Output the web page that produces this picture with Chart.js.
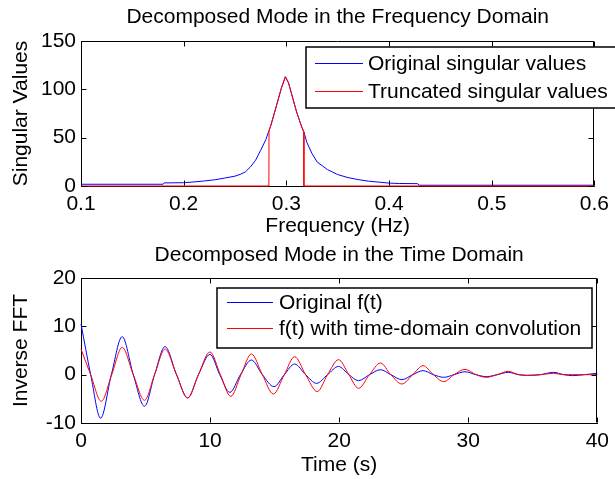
<!DOCTYPE html>
<html>
<head>
<meta charset="utf-8">
<script src="https://cdn.jsdelivr.net/npm/chart.js@4.4.0/dist/chart.umd.min.js"></script>
<style>
  body { margin: 0; background: #fff; }
  .panel { position: absolute; left: 0; width: 615px; }
</style>
</head>
<body>
<div class="panel" style="top:0;height:240px"><canvas id="freqChart" width="615" height="240"></canvas></div>
<div class="panel" style="top:240px;height:239px"><canvas id="timeChart" width="615" height="239"></canvas></div>
<script>
// singular values around the 0.3 Hz mode
const freqOriginal = [0.100, 0.180, 0.181, 0.200, 0.210, 0.220, 0.230, 0.240, 0.250, 0.255, 0.260, 0.265, 0.270, 0.275, 0.280, 0.283, 0.285, 0.290, 0.295, 0.299, 0.302, 0.305, 0.310, 0.315, 0.317, 0.320, 0.325, 0.330, 0.340, 0.350, 0.360, 0.370, 0.380, 0.390, 0.400, 0.410, 0.428, 0.429, 0.600];
const svOriginal = [1.8, 1.8, 3.2, 3.4, 4.2, 5.2, 6.4, 8.2, 10.2, 12, 14.5, 19.7, 26.6, 37, 48, 57, 63, 81.7, 100.7, 113, 107, 95.6, 76.5, 61, 56, 45, 33.5, 24.8, 17, 11.8, 8.7, 6.6, 5.0, 4.0, 3.0, 2.6, 2.4, 0.8, 0.8];
const freqTruncated = [0.100, 0.283, 0.2831, 0.285, 0.290, 0.295, 0.299, 0.302, 0.305, 0.310, 0.315, 0.317, 0.3171, 0.600];
const svTruncated = [0, 0, 57, 63, 81.7, 100.7, 113, 107, 95.6, 76.5, 61, 56, 0, 0];
const freqTicks = [0.1, 0.2, 0.3, 0.4, 0.5, 0.6];
const svTicks = [0, 50, 100, 150];

// inverse FFT of the mode, with and without the convolution
const timeOriginal = [0, 0.75, 1.52, 2.35, 3.19, 4.05, 4.92, 5.7, 6.51, 7.4, 8.26, 9.1, 9.99, 10.75, 11.53, 12.35, 13.2, 14.05, 14.95, 15.75, 16.55, 17.4, 18.25, 19.1, 19.95, 20.75, 21.5, 22.35, 23.2, 24.0, 24.86, 25.7, 26.5, 27.3, 28.1, 28.9, 29.75, 30.6, 31.4, 32.25, 33.1, 33.9, 34.6, 35.6, 36.6, 37.4, 38.1, 39.0, 40];
const fOriginal = [10.5, 0, -9.0, 0, 7.86, 0, -6.55, 0, 5.8, 0, -4.83, 0, 4.2, 0, -3.66, 0, 3.03, 0, -2.48, 0, 2.2, 0, -1.8, 0, 1.7, 0, -1.24, 0, 1.03, 0, -1.03, 0, 0.83, 0, -0.55, 0, 0.6, 0, -0.41, 0, 0.48, 0, -0.14, 0, 0.48, 0, -0.2, 0, 0.28];
const timeConv = [0, 0.75, 1.57, 2.38, 3.19, 4.05, 4.92, 5.7, 6.51, 7.4, 8.26, 9.1, 9.99, 10.8, 11.6, 12.4, 13.2, 14.05, 14.9, 15.75, 16.55, 17.4, 18.3, 19.1, 19.95, 20.75, 21.5, 22.35, 23.2, 24.0, 24.86, 25.7, 26.5, 27.3, 28.1, 28.9, 29.75, 30.6, 31.4, 32.25, 33.1, 33.9, 34.6, 35.6, 36.6, 37.4, 38.1, 40];
const fConv = [5.3, 0, -5.5, 0, 5.65, 0, -5.3, 0, 5.3, 0, -4.83, 0, 4.7, 0, -4.5, 0, 4.28, 0, -4.0, 0, 3.72, 0, -3.5, 0, 3.1, 0, -2.83, 0, 2.41, 0, -1.93, 0, 1.86, 0, -1.45, 0, 1.1, 0, -0.55, 0, 0.69, 0, -0.14, 0, 0.28, 0, 0, 0];
const timeTicks = [0, 10, 20, 30, 40];
const fftTicks = [-10, 0, 10, 20];

function toPoints(xs, ys) {
  return xs.map((x, i) => ({ x: x, y: ys[i] }));
}

Chart.defaults.font.family = '"Liberation Sans", Arial, sans-serif';
Chart.defaults.font.size = 21;
Chart.defaults.color = '#000';

// box round the plot with inward ticks on all four sides
const matlabAxes = {
  id: 'matlabAxes',
  afterDatasetsDraw(chart) {
    const { ctx, chartArea: a, scales } = chart;
    const L = Math.round(a.left) + 0.5, R = Math.round(a.right) - 0.5;
    const T = Math.round(a.top) + 0.5, B = Math.round(a.bottom) - 0.5;
    ctx.save();
    ctx.strokeStyle = '#000';
    ctx.lineWidth = 1;
    ctx.beginPath();
    ctx.moveTo(L, T); ctx.lineTo(R, T); ctx.lineTo(R, B);
    scales.x.ticks.forEach(t => {
      const px = Math.round(scales.x.getPixelForValue(t.value)) + 0.5;
      ctx.moveTo(px, B); ctx.lineTo(px, B - 5);
      ctx.moveTo(px, T); ctx.lineTo(px, T + 5);
    });
    scales.y.ticks.forEach(t => {
      const py = Math.round(scales.y.getPixelForValue(t.value)) + 0.5;
      ctx.moveTo(L, py); ctx.lineTo(L + 5, py);
      ctx.moveTo(R, py); ctx.lineTo(R - 5, py);
    });
    ctx.stroke();
    ctx.restore();
  }
};

// framed legend placed by pixel offsets from the canvas corner
const boxLegend = {
  id: 'boxLegend',
  afterDraw(chart, args, opts) {
    const ctx = chart.ctx;
    ctx.save();
    ctx.fillStyle = '#fff';
    ctx.fillRect(opts.left, opts.top, opts.width, opts.height);
    ctx.strokeStyle = '#000';
    ctx.lineWidth = 1.5;
    ctx.strokeRect(opts.left, opts.top, opts.width, opts.height);
    ctx.font = '21px "Liberation Sans", Arial, sans-serif';
    ctx.textBaseline = 'middle';
    ctx.fillStyle = '#000';
    chart.data.datasets.forEach((ds, i) => {
      const y = Math.round(opts.rows[i]) + 0.5;
      ctx.strokeStyle = ds.borderColor;
      ctx.lineWidth = 1;
      ctx.beginPath();
      ctx.moveTo(opts.lineFrom, y);
      ctx.lineTo(opts.lineTo, y);
      ctx.stroke();
      ctx.fillText(ds.label, opts.textX, opts.rows[i] + 1);
    });
    ctx.restore();
  }
};

function panelOptions(cfg) {
  return {
    responsive: false,
    animation: false,
    layout: { padding: { left: 0, right: 16, top: 0, bottom: 0 } },
    plugins: {
      legend: { display: false },
      tooltip: { enabled: false },
      title: {
        display: true,
        text: cfg.title,
        fullSize: false,
        font: { size: 21, weight: 'normal' },
        padding: cfg.titlePadding
      },
      boxLegend: cfg.legend
    },
    elements: { point: { radius: 0 } },
    scales: {
      x: {
        type: 'linear',
        min: cfg.xTicks[0],
        max: cfg.xTicks[cfg.xTicks.length - 1],
        grid: { display: false, drawTicks: false },
        border: { display: true, color: '#000', width: 1 },
        afterBuildTicks: s => { s.ticks = cfg.xTicks.map(v => ({ value: v })); },
        afterFit: s => { s.height = cfg.xAxisHeight; },
        ticks: { autoSkip: false, maxRotation: 0, padding: 6, font: { size: 21 } },
        title: { display: true, text: cfg.xTitle, font: { size: 21 }, padding: { top: 0, bottom: 1 } }
      },
      y: {
        type: 'linear',
        min: cfg.yTicks[0],
        max: cfg.yTicks[cfg.yTicks.length - 1],
        grid: { display: false, drawTicks: false },
        border: { display: true, color: '#000', width: 1 },
        afterBuildTicks: s => { s.ticks = cfg.yTicks.map(v => ({ value: v })); },
        afterFit: s => { s.width = 81; },
        ticks: { autoSkip: false, padding: 5, font: { size: 21 } },
        title: { display: true, text: cfg.yTitle, font: { size: 21 }, padding: { top: 9, bottom: 0 } }
      }
    }
  };
}

new Chart(document.getElementById('freqChart'), {
  type: 'line',
  data: {
    datasets: [{
      label: 'Original singular values',
      data: toPoints(freqOriginal, svOriginal),
      borderColor: '#0000ff',
      borderWidth: 1,
      tension: 0,
      clip: false,
      order: 1
    }, {
      label: 'Truncated singular values',
      data: toPoints(freqTruncated, svTruncated),
      borderColor: '#ff0000',
      borderWidth: 1,
      tension: 0,
      clip: false,
      order: 0
    }]
  },
  options: panelOptions({
    title: 'Decomposed Mode in the Frequency Domain',
    titlePadding: { top: 5, bottom: 10.8 },
    xTitle: 'Frequency (Hz)',
    yTitle: 'Singular Values',
    xTicks: freqTicks,
    yTicks: svTicks,
    xAxisHeight: 54,
    legend: { left: 306, top: 47, width: 330, height: 61, rows: [63, 91], lineFrom: 315, lineTo: 363, textX: 368 }
  }),
  plugins: [matlabAxes, boxLegend]
});

new Chart(document.getElementById('timeChart'), {
  type: 'line',
  data: {
    datasets: [{
      label: 'Original f(t)',
      data: toPoints(timeOriginal, fOriginal),
      borderColor: '#0000ff',
      borderWidth: 1,
      cubicInterpolationMode: 'monotone',
      clip: false,
      order: 1
    }, {
      label: 'f(t) with time-domain convolution',
      data: toPoints(timeConv, fConv),
      borderColor: '#ff0000',
      borderWidth: 1,
      cubicInterpolationMode: 'monotone',
      clip: false,
      order: 0
    }]
  },
  options: panelOptions({
    title: 'Decomposed Mode in the Time Domain',
    titlePadding: { top: 3, bottom: 9.8 },
    xTitle: 'Time (s)',
    yTitle: 'Inverse FFT',
    xTicks: timeTicks,
    yTicks: fftTicks,
    xAxisHeight: 56,
    legend: { left: 217, top: 48, width: 375, height: 60, rows: [62, 88], lineFrom: 227, lineTo: 273, textX: 279 }
  }),
  plugins: [matlabAxes, boxLegend]
});
</script>
</body>
</html>
